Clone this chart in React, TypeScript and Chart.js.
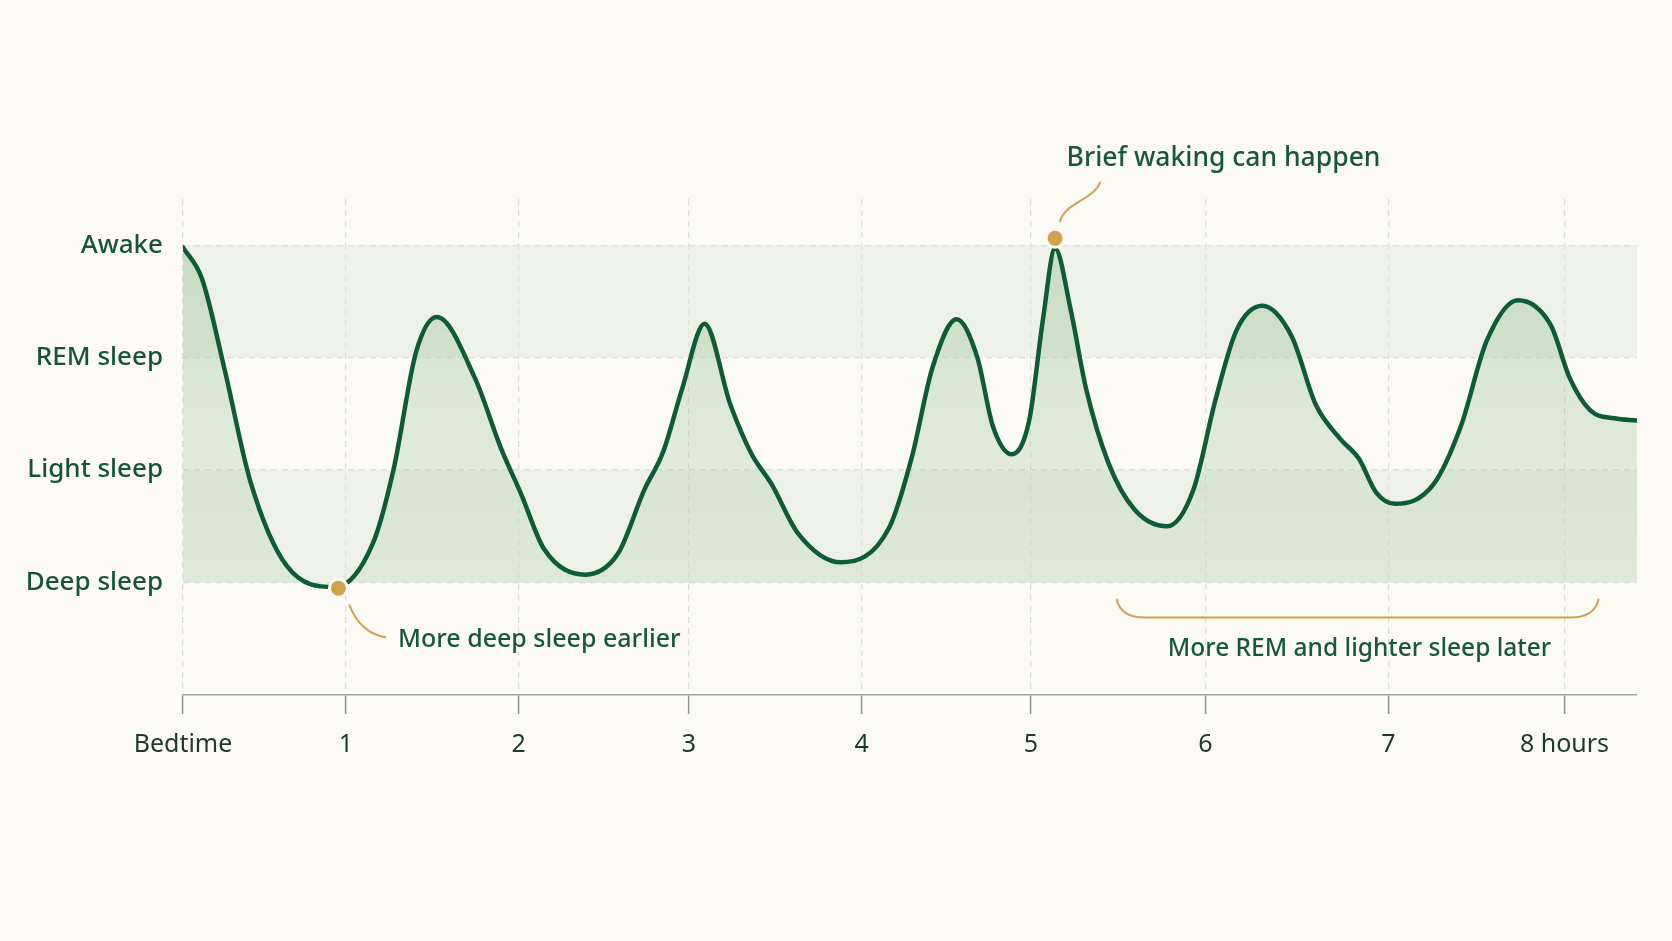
import React, { useEffect, useRef } from 'react';
import Chart from 'chart.js/auto';

// hours since bedtime and sleep depth (0 = deep, 3 = awake)
const sleepHours = [
    0, 0.11, 0.24, 0.39, 0.6, 0.88, 1.1, 1.22, 1.35, 1.47, 1.69, 1.84, 1.96, 2.09, 2.33,
    2.52, 2.67, 2.78, 2.89, 3.02, 3.17, 3.29, 3.41, 3.56, 3.81, 4.09, 4.22, 4.34, 4.48,
    4.6, 4.69, 4.8, 4.9, 4.98, 5.05, 5.14, 5.23, 5.36, 5.51, 5.7, 5.85, 5.98, 6.1, 6.25,
    6.42, 6.56, 6.7, 6.81, 6.91, 7.02, 7.24, 7.4, 7.55, 7.73, 7.92, 8.03, 8.15, 8.29, 8.42,
];
const sleepLevels = [
    2.98, 2.7, 1.9, 0.9, 0.15, -0.04, 0.35, 1.01, 2.05, 2.36, 1.82, 1.2, 0.78, 0.3, 0.07,
    0.26, 0.82, 1.16, 1.72, 2.3, 1.58, 1.15, 0.87, 0.44, 0.18, 0.49, 1.11, 1.91, 2.34,
    2.0, 1.39, 1.14, 1.44, 2.34, 2.97, 2.43, 1.72, 1.06, 0.65, 0.5, 0.82, 1.63, 2.24, 2.46,
    2.19, 1.58, 1.28, 1.1, 0.8, 0.7, 0.87, 1.39, 2.15, 2.51, 2.29, 1.82, 1.53, 1.46, 1.44,
];

const stageLabels = ['Deep sleep', 'Light sleep', 'REM sleep', 'Awake'];
const hourLabels = ['Bedtime', '1', '2', '3', '4', '5', '6', '7', '8 hours'];
// where the hour marks sit on the drawn time axis
const hourTicks = [0, 0.944, 1.944, 2.93, 3.93, 4.91, 5.92, 6.98, 8.0];

// shaded bands: Awake..REM and Light..Deep
const bandTops = [3, 1];
const bandBottoms = [2, 0];

const markerHours = [0.9, 5.05];
const markerLevels = [-0.05, 3.06];

const noteTexts = ['More deep sleep earlier', 'Brief waking can happen', 'More REM and lighter sleep later'];

const X_MAX = 8.42;
const BG = '#fbfaf5';
const GREEN = '#0e5c36';
const GOLD = '#cfa24c';
const FONT = '"Noto Sans", "Open Sans", sans-serif';

const notesPlugin = {
    id: 'notes',
    afterDraw(chart: any) {
        const { ctx } = chart;
        const xs = chart.scales.x;
        const ys = chart.scales.y;
        const px = (v: number) => xs.getPixelForValue(v);
        const py = (v: number) => ys.getPixelForValue(v);

        ctx.save();
        ctx.strokeStyle = GOLD;
        ctx.lineWidth = 2;
        ctx.lineCap = 'round';

        // connector for the deep sleep dot
        const d1x = px(markerHours[0]);
        const d1y = py(markerLevels[0]);
        ctx.beginPath();
        ctx.moveTo(d1x + 11, d1y + 17);
        ctx.quadraticCurveTo(d1x + 22, d1y + 45, d1x + 47, d1y + 49);
        ctx.stroke();

        // connector for the waking dot
        const d2x = px(markerHours[1]);
        const d2y = py(markerLevels[1]);
        ctx.beginPath();
        ctx.moveTo(d2x + 5, d2y - 17);
        ctx.bezierCurveTo(d2x + 10, d2y - 36, d2x + 38, d2y - 38, d2x + 45, d2y - 56);
        ctx.stroke();

        // brace under the late part of the night
        const bx1 = px(5.407);
        const bx2 = px(8.197);
        const by = py(-0.311);
        ctx.beginPath();
        ctx.moveTo(bx1, by - 18);
        ctx.quadraticCurveTo(bx1 + 4, by, bx1 + 28, by);
        ctx.lineTo(bx2 - 28, by);
        ctx.quadraticCurveTo(bx2 - 4, by, bx2, by - 18);
        ctx.stroke();

        ctx.fillStyle = '#17573a';
        ctx.textBaseline = 'middle';
        ctx.textAlign = 'left';
        ctx.font = `500 25px ${FONT}`;
        ctx.fillText(noteTexts[0], px(1.245), py(-0.506));
        ctx.font = `500 26.5px ${FONT}`;
        ctx.fillText(noteTexts[1], px(5.117), py(3.772));
        ctx.font = `500 24.5px ${FONT}`;
        ctx.textAlign = 'center';
        ctx.fillText(noteTexts[2], px(6.813), py(-0.595));
        ctx.restore();
    },
};

const SleepChart: React.FC = () => {
    const canvasRef = useRef<HTMLCanvasElement | null>(null);

    useEffect(() => {
        if (!canvasRef.current) return;
        const ctx = canvasRef.current.getContext('2d');
        if (!ctx) return;

        const curve = sleepHours.map((h, i) => ({ x: h, y: sleepLevels[i] }));
        const markers = markerHours.map((h, i) => ({ x: h, y: markerLevels[i] }));
        const bands = bandTops.map((top, i) => ({
            type: 'line' as const,
            data: [{ x: 0, y: top }, { x: X_MAX, y: top }],
            fill: { value: bandBottoms[i] },
            backgroundColor: 'rgba(222, 230, 214, 0.45)',
            borderWidth: 0,
            pointRadius: 0,
            order: 3,
        }));

        const chart = new Chart(ctx, {
            type: 'line',
            data: {
                datasets: [
                    {
                        type: 'scatter',
                        data: markers,
                        pointRadius: 9,
                        pointBackgroundColor: GOLD,
                        pointBorderColor: BG,
                        pointBorderWidth: 3,
                        order: 0,
                    },
                    {
                        data: curve,
                        borderColor: GREEN,
                        borderWidth: 4.5,
                        cubicInterpolationMode: 'monotone',
                        borderJoinStyle: 'round',
                        borderCapStyle: 'round',
                        pointRadius: 0,
                        fill: { value: 0 },
                        backgroundColor: (c: any) => {
                            const area = c.chart.chartArea;
                            if (!area) return 'rgba(150,190,145,0.3)';
                            const ys = c.chart.scales.y;
                            const g = c.chart.ctx.createLinearGradient(0, ys.getPixelForValue(3), 0, ys.getPixelForValue(0));
                            g.addColorStop(0, 'rgba(150, 190, 145, 0.42)');
                            g.addColorStop(1, 'rgba(170, 200, 165, 0.22)');
                            return g;
                        },
                        order: 1,
                    },
                    ...bands,
                ] as any,
            },
            options: {
                animation: false,
                responsive: false,
                layout: { padding: { top: 199, right: 35, left: 0, bottom: 0 } },
                plugins: {
                    legend: { display: false },
                    tooltip: { enabled: false },
                },
                scales: {
                    x: {
                        type: 'linear',
                        min: 0,
                        max: X_MAX,
                        afterBuildTicks: (s: any) => {
                            s.ticks = hourTicks.map((v) => ({ value: v }));
                        },
                        afterFit: (s: any) => {
                            s.height = 246;
                        },
                        grid: {
                            color: '#dcddd6',
                            lineWidth: 1.2,
                            tickColor: '#8d958d',
                            tickLength: 19,
                            tickWidth: 1.5,
                            tickBorderDash: [],
                        },
                        border: { display: true, color: '#a3aaa2', width: 1.5, dash: [6, 5] },
                        ticks: {
                            padding: 16,
                            color: '#1d3a2a',
                            font: { family: FONT, size: 25 },
                            maxRotation: 0,
                            autoSkip: false,
                            callback: (_v: any, i: number) => hourLabels[i] ?? '',
                        },
                    },
                    y: {
                        min: -1,
                        max: 3.41,
                        afterBuildTicks: (s: any) => {
                            s.ticks = stageLabels.map((_, i) => ({ value: i }));
                        },
                        afterFit: (s: any) => {
                            s.width = 183;
                        },
                        grid: { color: '#dcddd6', lineWidth: 1.2, drawTicks: false },
                        border: { display: false, dash: [6, 5] },
                        ticks: {
                            padding: 20,
                            color: '#17533a',
                            font: { family: FONT, size: 26, weight: 500 },
                            callback: (v: any) => stageLabels[v] ?? '',
                        },
                    },
                },
            },
            plugins: [notesPlugin],
        });

        return () => {
            chart.destroy();
        };
    }, []);

    return <canvas ref={canvasRef} width={1672} height={941} style={{ display: 'block' }}></canvas>;
};

const App: React.FC = () => {
    return (
        <div style={{ position: 'fixed', left: 0, top: 0, width: 1672, height: 941, background: BG }}>
            <SleepChart />
        </div>
    );
};

export default App;
